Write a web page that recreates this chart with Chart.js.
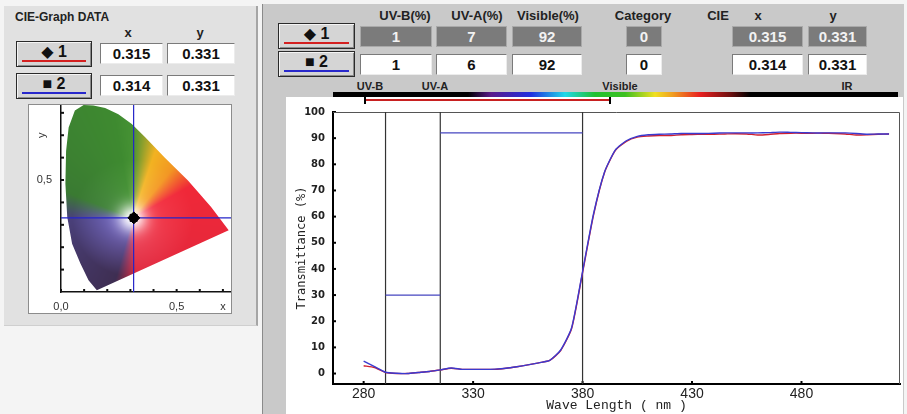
<!DOCTYPE html>
<html lang="en">
  <head>
    <meta charset="UTF-8" />
    <title>CIE-Graph DATA / Transmittance</title>
    <script src="https://cdn.jsdelivr.net/npm/chart.js@4.4.0/dist/chart.umd.min.js"></script>
    <style>
      body {
        margin: 0;
        width: 907px;
        height: 414px;
        overflow: hidden;
        position: relative;
        background: #f4f4f4;
        font-family: "Liberation Sans", Arial, sans-serif;
      }
      div, canvas { position: absolute; }
      #leftPanel {
        left: 4px; top: 6px; width: 252px; height: 319px;
        background: #e1e1e1;
        border-right: 2px solid #a5a5a5;
        border-bottom: 1px solid #cfcfcf;
      }
      #rightPanel {
        left: 262px; top: 4px; width: 641px; height: 410px;
        background: #c9c9c9;
        border-left: 1px solid #8a8a8a;
      }
      #plotPanel { left: 286px; top: 97px; width: 617px; height: 317px; background: #fff; }
      #cieBox {
        left: 28px; top: 104px; width: 202px; height: 208px;
        background: #fff; border: 1px solid #8c8c8c;
      }
      .hdr {
        font-weight: bold; font-size: 13px; color: #222;
        transform: translate(-50%, -50%); white-space: nowrap;
      }
      .btn {
        box-sizing: border-box; background: #d5d5d5;
        border: 1px solid #2a2a2a;
        box-shadow: inset 1px 1px 0 #f4f4f4, inset -1px -1px 0 #8a8a8a;
        font-weight: bold; font-size: 16px; text-align: center; color: #111;
        font-family: "Liberation Sans", "DejaVu Sans", sans-serif;
      }
      .btn .u { left: 5px; right: 5px; bottom: 4px; height: 2px; }
      .fld { box-sizing: border-box; font-weight: bold; font-size: 15px; text-align: center; }
      .dark { background: #7b7b7b; color: #f2f2f2; border: 1px solid #a9a9a9; }
      .light {
        background: #fff; color: #111;
        border-top: 1px solid #7a7a7a; border-left: 1px solid #7a7a7a;
        border-right: 1px solid #ececec; border-bottom: 1px solid #ececec;
      }
      #spectrum {
        left: 333px; top: 92px; width: 565px; height: 5px;
        background: linear-gradient(to right, #000 0px, #000 135px, #5a1a8a 158px,
          #2030e0 198px, #20d8e8 232px, #20c030 262px, #3cc020 292px, #f0e020 322px,
          #f0a020 339px, #e82020 367px, #701010 397px, #000 417px, #000 565px);
      }
      #visRange { left: 366px; top: 99px; width: 244px; height: 2px; background: #c82020; }
      .arrow { width: 2px; height: 7px; top: 97px; background: #000; }
    </style>
  </head>
  <body>
    <div id="leftPanel"></div>
    <div id="rightPanel"></div>
    <div id="plotPanel"></div>
    <div id="spectrum"></div>
    <div id="visRange"></div>
    <div class="arrow" style="left: 364px"></div>
    <div class="arrow" style="left: 609px"></div>
    <div id="cieBox"></div>
    <canvas id="cieChart" width="202" height="208" style="left: 29px; top: 105px"></canvas>
    <canvas id="transChart" width="617" height="317" style="left: 286px; top: 97px"></canvas>

    <script>
      // sample rows
      const samples = ["\u25C6 1", "\u25A0 2"];
      const sampleColors = ["#d42020", "#2828cc"];
      const uvbPct = [1, 1];
      const uvaPct = [7, 6];
      const visiblePct = [92, 92];
      const category = [0, 0];
      const cieX = [0.315, 0.314];
      const cieY = [0.331, 0.331];

      // transmittance curves
      const wavelengths = [
        280, 285, 290, 295, 300, 305, 310, 315, 320, 325, 330, 335, 340, 345, 350,
        355, 360, 365, 370, 375, 380, 385, 390, 395, 400, 405, 410, 415, 420, 425,
        430, 435, 440, 445, 450, 455, 460, 465, 470, 475, 480, 485, 490, 495, 500,
        505, 510, 515, 520,
      ];
      const sample1T = [
        3.0, 2.3, 0.4, 0.0, 0.0, 0.4, 0.8, 1.4, 2.0, 1.6, 1.6, 1.6, 1.6, 2.0, 2.6,
        3.3, 4.1, 5.0, 8.8, 17.2, 38.6, 60.6, 76.8, 85.3, 88.8, 90.4, 90.8, 91.0, 91.0, 91.3,
        91.4, 91.5, 91.5, 91.6, 91.7, 91.6, 91.2, 91.4, 91.8, 91.9, 91.9, 91.9, 91.9, 91.8, 91.6,
        91.2, 91.3, 91.5, 91.6,
      ];
      const sample2T = [
        4.7, 2.6, 0.5, 0.1, 0.0, 0.4, 0.8, 1.4, 2.1, 1.6, 1.6, 1.6, 1.7, 2.0, 2.6,
        3.3, 4.1, 5.0, 9.0, 17.5, 39.0, 61.0, 77.0, 85.5, 89.0, 90.7, 91.3, 91.5, 91.6, 91.8,
        91.8, 91.8, 91.9, 92.0, 92.0, 92.0, 92.0, 92.1, 92.3, 92.2, 92.1, 92.0, 92.0, 92.0, 92.0,
        91.8, 91.5, 91.6, 91.6,
      ];
      const bandEdges = [290, 315, 380];
      const bandLevels = [30, 92];
      const xTicks = [280, 330, 380, 430, 480];
      const yTicks = [0, 10, 20, 30, 40, 50, 60, 70, 80, 90, 100];

      // CIE chart
      const locusX = [0.155, 0.119, 0.084, 0.048, 0.027, 0.019, 0.022, 0.033, 0.06, 0.098, 0.14,
        0.191, 0.248, 0.306, 0.363, 0.448, 0.549, 0.649, 0.725];
      const locusY = [0.008, 0.053, 0.127, 0.216, 0.335, 0.483, 0.63, 0.735, 0.81, 0.835, 0.833,
        0.822, 0.794, 0.75, 0.692, 0.601, 0.498, 0.379, 0.276];
      const cieXTicks = [0, 0.1, 0.2, 0.3, 0.4, 0.5, 0.6, 0.7];
      const cieXLabels = ["0,0", "", "", "", "", "0,5", "", "x"];
      const cieYTicks = [0.1, 0.2, 0.3, 0.4, 0.5, 0.6, 0.7, 0.8];
      const cieYLabels = ["", "", "", "", "0,5", "", "", ""];

      // ---- header widgets ----
      function put(cls, left, top, w, h, text) {
        const d = document.createElement("div");
        d.className = cls;
        Object.assign(d.style, {
          left: left + "px", top: top + "px", width: w + "px", height: h + "px",
          lineHeight: h - 2 + "px",
        });
        d.textContent = text;
        document.body.appendChild(d);
        return d;
      }
      function label(cx, cy, text, size) {
        const d = document.createElement("div");
        d.className = "hdr";
        d.style.left = cx + "px";
        d.style.top = cy + "px";
        if (size) d.style.fontSize = size + "px";
        d.textContent = text;
        document.body.appendChild(d);
      }
      function button(left, top, w, h, i) {
        const b = put("btn", left, top, w, h, samples[i]);
        b.style.lineHeight = h - 7 + "px";
        const u = document.createElement("div");
        u.className = "u";
        u.style.background = sampleColors[i];
        b.appendChild(u);
      }

      // left panel
      const t = document.createElement("div");
      Object.assign(t.style, { left: "15px", top: "10px", fontWeight: "bold", fontSize: "12px", color: "#222" });
      t.textContent = "CIE-Graph DATA";
      document.body.appendChild(t);
      label(128, 32, "x");
      label(200, 32, "y");
      [41, 73].forEach((top, i) => {
        button(16, top, 76, 26, i);
        put("fld light", 100, top + 2, 63, 21, cieX[i].toFixed(3));
        put("fld light", 167, top + 2, 68, 21, cieY[i].toFixed(3));
      });

      // right header
      label(405, 15, "UV-B(%)");
      label(477, 15, "UV-A(%)");
      label(548, 15, "Visible(%)");
      label(643, 15, "Category");
      label(718, 15, "CIE");
      label(758, 15, "x");
      label(833, 15, "y");
      [23, 51].forEach((top, i) => {
        const cls = i === 0 ? "fld dark" : "fld light";
        const ft = top + 3;
        button(278, top, 77, 26, i);
        put(cls, 360, ft, 72, 21, uvbPct[i]);
        put(cls, 436, ft, 71, 21, uvaPct[i]);
        put(cls, 512, ft, 70, 21, visiblePct[i]);
        put(cls, 626, ft, 36, 21, category[i]);
        put(cls, 732, ft, 71, 21, cieX[i].toFixed(3));
        put(cls, 808, ft, 59, 21, cieY[i].toFixed(3));
      });
      label(370, 86, "UV-B", 11);
      label(435, 86, "UV-A", 11);
      label(620, 86, "Visible", 11);
      label(847, 86, "IR", 11);

      // ---- plugins ----
      const insideTicks = {
        id: "insideTicks",
        beforeDatasetsDraw(chart, args, opts) {
          const { ctx, chartArea: a, scales: { x, y } } = chart;
          ctx.save();
          ctx.strokeStyle = opts.color;
          ctx.lineWidth = opts.width;
          x.ticks.forEach((tk) => {
            const px = x.getPixelForValue(tk.value);
            ctx.beginPath();
            ctx.moveTo(px, a.bottom);
            ctx.lineTo(px, a.bottom - opts.len);
            ctx.stroke();
          });
          y.ticks.forEach((tk) => {
            const py = y.getPixelForValue(tk.value);
            ctx.beginPath();
            ctx.moveTo(a.left, py);
            ctx.lineTo(a.left + opts.len, py);
            ctx.stroke();
          });
          ctx.restore();
        },
      };

      const frame = {
        id: "frame",
        beforeDatasetsDraw(chart, args, opts) {
          if (!opts.color) return;
          const { ctx, chartArea: a } = chart;
          ctx.save();
          ctx.strokeStyle = opts.color;
          ctx.lineWidth = 1;
          ctx.beginPath();
          ctx.moveTo(a.left, a.top + 0.5);
          ctx.lineTo(a.right - 0.5, a.top + 0.5);
          ctx.lineTo(a.right - 0.5, a.bottom);
          ctx.stroke();
          ctx.restore();
        },
      };

      function mix(c1, c2, k) {
        return [0, 1, 2].map((i) => c1[i] + (c2[i] - c1[i]) * k);
      }
      // hue sectors around the white point, inner and outer ring colours
      const sectorAngles = [-105, -86, 30, 52, 72, 90, 100, 158, 180, 255];
      const innerCols = [
        [118, 104, 192], [240, 80, 100], [245, 62, 78], [248, 168, 60], [246, 192, 66],
        [110, 170, 80], [78, 152, 62], [76, 140, 70], [122, 112, 204], [118, 104, 192],
      ];
      const outerCols = [
        [62, 46, 82], [222, 40, 62], [240, 40, 56], [242, 150, 35], [242, 178, 33],
        [70, 146, 52], [62, 138, 48], [58, 122, 50], [74, 64, 122], [62, 46, 82],
      ];
      function sectorColor(cols, ang) {
        if (ang < sectorAngles[0]) ang += 360;
        for (let i = 0; i < sectorAngles.length - 1; i++) {
          if (ang >= sectorAngles[i] && ang <= sectorAngles[i + 1]) {
            const k = (ang - sectorAngles[i]) / (sectorAngles[i + 1] - sectorAngles[i]);
            return mix(cols[i], cols[i + 1], k);
          }
        }
        return cols[0];
      }

      const cieFill = {
        id: "cieFill",
        beforeDatasetsDraw(chart) {
          const idx = chart.data.datasets.findIndex((d) => d.label === "locus");
          const pts = chart.getDatasetMeta(idx).data;
          const { ctx, chartArea: a, scales: { x, y } } = chart;
          const w = Math.ceil(a.right - a.left);
          const h = Math.ceil(a.bottom - a.top);
          const off = document.createElement("canvas");
          off.width = w;
          off.height = h;
          const octx = off.getContext("2d");
          const img = octx.createImageData(w, h);
          for (let py = 0; py < h; py++) {
            for (let px = 0; px < w; px++) {
              const cx = x.getValueForPixel(a.left + px + 0.5);
              const cy = y.getValueForPixel(a.top + py + 0.5);
              const dx = cx - 0.31, dy = cy - 0.33;
              const dist = Math.sqrt(dx * dx + dy * dy);
              const ang = (Math.atan2(dy, dx) * 180) / Math.PI;
              const k = Math.min(1, Math.max(0, (dist - 0.04) / 0.22));
              let c = mix(sectorColor(innerCols, ang), sectorColor(outerCols, ang), k);
              c = mix(c, [255, 255, 255], Math.exp(-Math.pow(dist / 0.06, 2)));
              const o = (py * w + px) * 4;
              img.data[o] = c[0];
              img.data[o + 1] = c[1];
              img.data[o + 2] = c[2];
              img.data[o + 3] = 255;
            }
          }
          octx.putImageData(img, 0, 0);
          ctx.save();
          ctx.beginPath();
          pts.forEach((p, i) => (i ? ctx.lineTo(p.x, p.y) : ctx.moveTo(p.x, p.y)));
          ctx.closePath();
          ctx.clip();
          ctx.drawImage(off, a.left, a.top);
          ctx.restore();
        },
        afterDraw(chart) {
          const { ctx, chartArea: a, scales: { y } } = chart;
          ctx.save();
          ctx.translate(a.left - 19, y.getPixelForValue(0.7));
          ctx.rotate(-Math.PI / 2);
          ctx.font = "11px 'Liberation Sans'";
          ctx.fillStyle = "#333";
          ctx.textAlign = "center";
          ctx.textBaseline = "middle";
          ctx.fillText("y", 0, 0);
          ctx.restore();
        },
      };

      // ---- transmittance chart ----
      const yMin = -4, yMax = 100;
      const toPts = (vals) => wavelengths.map((w, i) => ({ x: w, y: vals[i] }));
      const lineDs = (data, color, width) => ({
        data, borderColor: color, borderWidth: width, pointRadius: 0, fill: false, tension: 0.2,
      });

      const transDatasets = [
        lineDs(toPts(sample2T), "#3a3ad0", 1.4),
        lineDs(toPts(sample1T), "#d02030", 1.4),
        lineDs([{ x: bandEdges[0], y: bandLevels[0] }, { x: bandEdges[1], y: bandLevels[0] }], "#4646c0", 1.2),
        lineDs([{ x: bandEdges[1], y: bandLevels[1] }, { x: bandEdges[2], y: bandLevels[1] }], "#4646c0", 1.2),
      ];
      bandEdges.forEach((e) => {
        transDatasets.push(lineDs([{ x: e, y: yMin }, { x: e, y: yMax }], "#333", 1.2));
      });

      new Chart(document.getElementById("transChart"), {
        type: "line",
        data: { datasets: transDatasets },
        options: {
          responsive: false,
          animation: false,
          events: [],
          layout: { autoPadding: false, padding: { top: 15, right: 3, left: 0, bottom: 0 } },
          plugins: {
            legend: { display: false },
            tooltip: { enabled: false },
            insideTicks: { color: "#000", width: 2, len: 3 },
            frame: { color: "#555" },
          },
          scales: {
            x: {
              type: "linear",
              min: 266,
              max: 525,
              afterBuildTicks: (s) => { s.ticks = xTicks.map((v) => ({ value: v })); },
              afterFit: (s) => { s.height = 30; },
              grid: { drawOnChartArea: false, drawTicks: false },
              border: { color: "#000", width: 2 },
              ticks: {
                padding: 2, autoSkip: false, maxRotation: 0, color: "#222",
                font: { family: "Liberation Sans", size: 14 },
              },
              title: {
                display: true, text: "Wave Length ( nm )", color: "#222",
                padding: { top: 0, bottom: 1 },
                font: { family: "Liberation Mono", size: 13 },
              },
            },
            y: {
              min: yMin,
              max: yMax,
              afterBuildTicks: (s) => { s.ticks = yTicks.map((v) => ({ value: v })); },
              afterFit: (s) => { s.width = 47; },
              grid: { drawOnChartArea: false, drawTicks: false },
              border: { color: "#000", width: 2 },
              ticks: {
                padding: 8, color: "#222",
                font: { family: "DejaVu Sans", size: 10, weight: "bold" },
              },
              title: {
                display: true, text: "Transmittance (%)", color: "#222",
                padding: { top: 9, bottom: 0 },
                font: { family: "DejaVu Sans Mono", size: 12 },
              },
            },
          },
        },
        plugins: [insideTicks, frame],
      });

      // ---- CIE chart ----
      const cieXMax = 0.735, cieYMax = 0.835;
      new Chart(document.getElementById("cieChart"), {
        type: "scatter",
        data: {
          datasets: [
            {
              data: [{ x: cieX[0], y: cieY[0] }], pointStyle: "rectRot", pointRadius: 6,
              backgroundColor: "#000", borderColor: "#000",
            },
            {
              data: [{ x: cieX[1], y: cieY[1] }], pointStyle: "rect", pointRadius: 5,
              backgroundColor: "#000", borderColor: "#000",
            },
            {
              data: [{ x: cieX[1], y: 0 }, { x: cieX[1], y: cieYMax }], showLine: true,
              pointRadius: 0, borderColor: "#2424c8", borderWidth: 1.2,
            },
            {
              data: [{ x: 0, y: cieY[1] }, { x: cieXMax, y: cieY[1] }], showLine: true,
              pointRadius: 0, borderColor: "#2424c8", borderWidth: 1.2,
            },
            {
              label: "locus",
              data: locusX.map((v, i) => ({ x: v, y: locusY[i] })),
              showLine: false, pointRadius: 0, borderWidth: 0,
            },
          ],
        },
        options: {
          responsive: false,
          animation: false,
          events: [],
          layout: { autoPadding: false, padding: 0 },
          plugins: {
            legend: { display: false },
            tooltip: { enabled: false },
            insideTicks: { color: "#111", width: 2, len: 3 },
          },
          scales: {
            x: {
              type: "linear",
              min: 0,
              max: cieXMax,
              afterBuildTicks: (s) => { s.ticks = cieXTicks.map((v) => ({ value: v })); },
              afterFit: (s) => { s.height = 21; s.paddingLeft = 0; s.paddingRight = 0; },
              grid: { drawOnChartArea: false, drawTicks: false },
              border: { color: "#111", width: 1.5 },
              ticks: {
                padding: 8, autoSkip: false, maxRotation: 0, color: "#333",
                font: { family: "Liberation Sans", size: 11 },
                callback: (v, i) => cieXLabels[i],
              },
            },
            y: {
              min: 0,
              max: cieYMax,
              afterBuildTicks: (s) => { s.ticks = cieYTicks.map((v) => ({ value: v })); },
              afterFit: (s) => { s.width = 32; s.paddingTop = 0; s.paddingBottom = 0; },
              grid: { drawOnChartArea: false, drawTicks: false },
              border: { color: "#111", width: 1.5 },
              ticks: {
                padding: 9, autoSkip: false, color: "#333",
                font: { family: "Liberation Sans", size: 11 },
                callback: (v, i) => cieYLabels[i],
              },
            },
          },
        },
        plugins: [cieFill, insideTicks],
      });
    </script>
  </body>
</html>
